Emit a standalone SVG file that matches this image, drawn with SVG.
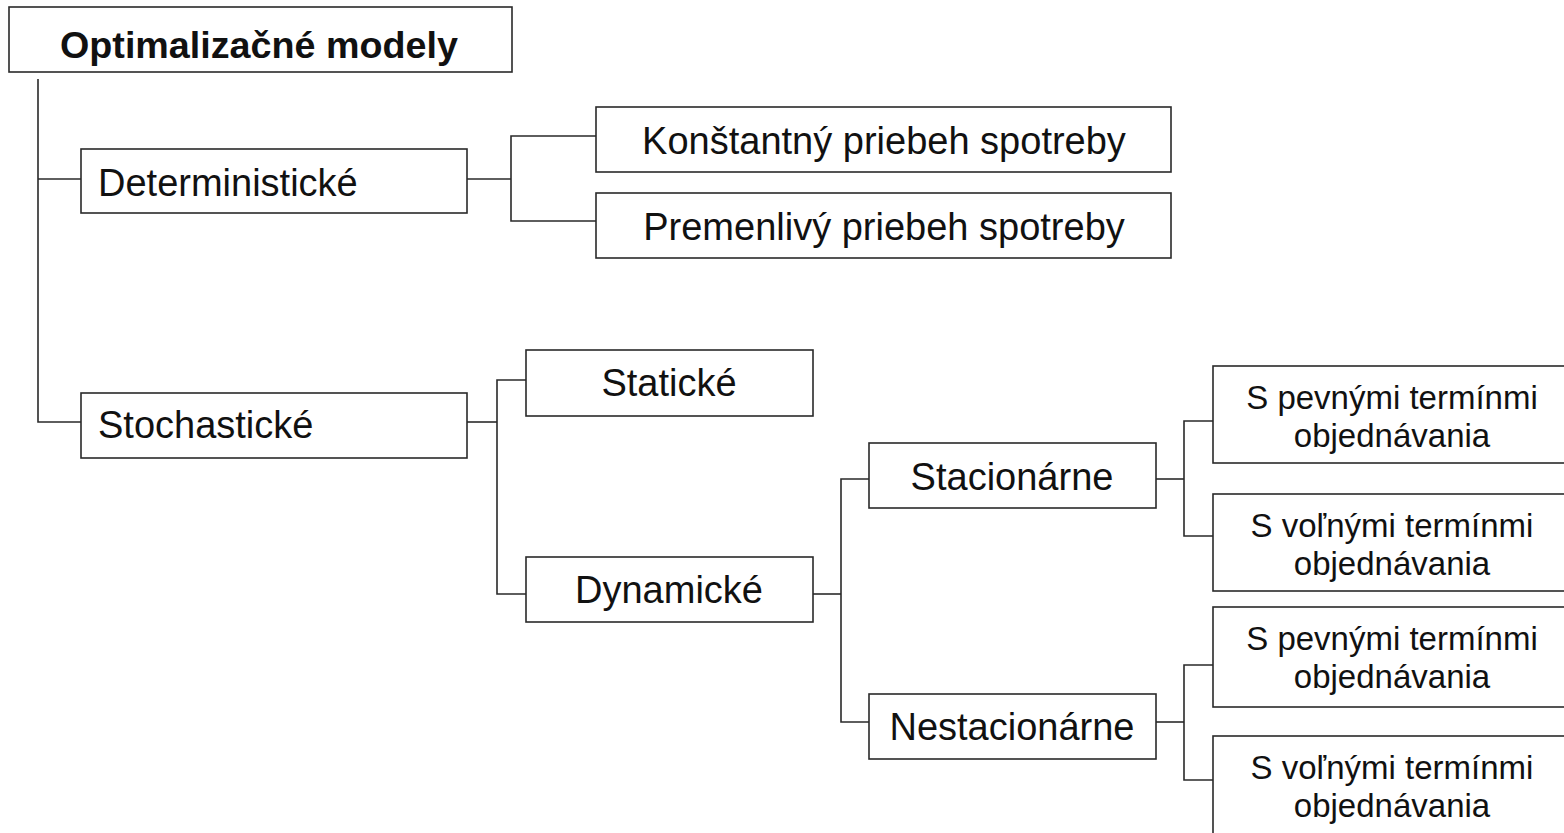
<svg xmlns="http://www.w3.org/2000/svg" width="1564" height="833" viewBox="0 0 1564 833">
<style>
.box{fill:#fff;stroke:#2a2a2a;stroke-width:1.6}
.t{font-family:"Liberation Sans",Arial,sans-serif;font-size:38px;fill:#111}
.b{font-weight:bold;font-size:37.7px}
.s{font-size:33px}
.m{text-anchor:middle}
.c{fill:none;stroke:#2a2a2a;stroke-width:1.6}
</style>
<rect width="1564" height="833" fill="#fff"/>
<g id="connectors" class="c">
<path d="M38,79 V422 H81"/>
<path d="M38,179 H81"/>
<path d="M467,179 H511"/>
<path d="M596,136 H511 V221 H596"/>
<path d="M467,422 H497"/>
<path d="M526,380 H497 V594 H526"/>
<path d="M813,594 H841"/>
<path d="M869,479 H841 V722 H869"/>
<path d="M1156,479 H1184"/>
<path d="M1213,421 H1184 V536 H1213"/>
<path d="M1156,722 H1184"/>
<path d="M1213,665 H1184 V780 H1213"/>
</g>
<g id="root"><rect class="box" x="9" y="7" width="503" height="65"/><text class="t b" x="60" y="58">Optimalizačné modely</text></g>
<g id="det"><rect class="box" x="81" y="149" width="386" height="64"/><text class="t" x="98" y="196">Deterministické</text></g>
<g id="kon"><rect class="box" x="596" y="107" width="575" height="65"/><text class="t m" x="884" y="154">Konštantný priebeh spotreby</text></g>
<g id="prem"><rect class="box" x="596" y="193" width="575" height="65"/><text class="t m" x="884" y="240">Premenlivý priebeh spotreby</text></g>
<g id="stoch"><rect class="box" x="81" y="393" width="386" height="65"/><text class="t" x="98" y="438">Stochastické</text></g>
<g id="stat"><rect class="box" x="526" y="350" width="287" height="66"/><text class="t m" x="669" y="396">Statické</text></g>
<g id="dyn"><rect class="box" x="526" y="557" width="287" height="65"/><text class="t m" x="669" y="603">Dynamické</text></g>
<g id="stac"><rect class="box" x="869" y="443" width="287" height="65"/><text class="t m" x="1012" y="490">Stacionárne</text></g>
<g id="nest"><rect class="box" x="869" y="694" width="287" height="65"/><text class="t m" x="1012" y="740">Nestacionárne</text></g>
<g id="r1"><rect class="box" x="1213" y="366" width="362" height="97"/><text class="t s m" x="1392" y="409">S pevnými termínmi</text><text class="t s m" x="1392" y="447">objednávania</text></g>
<g id="r2"><rect class="box" x="1213" y="494" width="362" height="97"/><text class="t s m" x="1392" y="537">S voľnými termínmi</text><text class="t s m" x="1392" y="575">objednávania</text></g>
<g id="r3"><rect class="box" x="1213" y="607" width="362" height="100"/><text class="t s m" x="1392" y="650">S pevnými termínmi</text><text class="t s m" x="1392" y="688">objednávania</text></g>
<g id="r4"><rect class="box" x="1213" y="736" width="362" height="105"/><text class="t s m" x="1392" y="779">S voľnými termínmi</text><text class="t s m" x="1392" y="817">objednávania</text></g>
</svg>
